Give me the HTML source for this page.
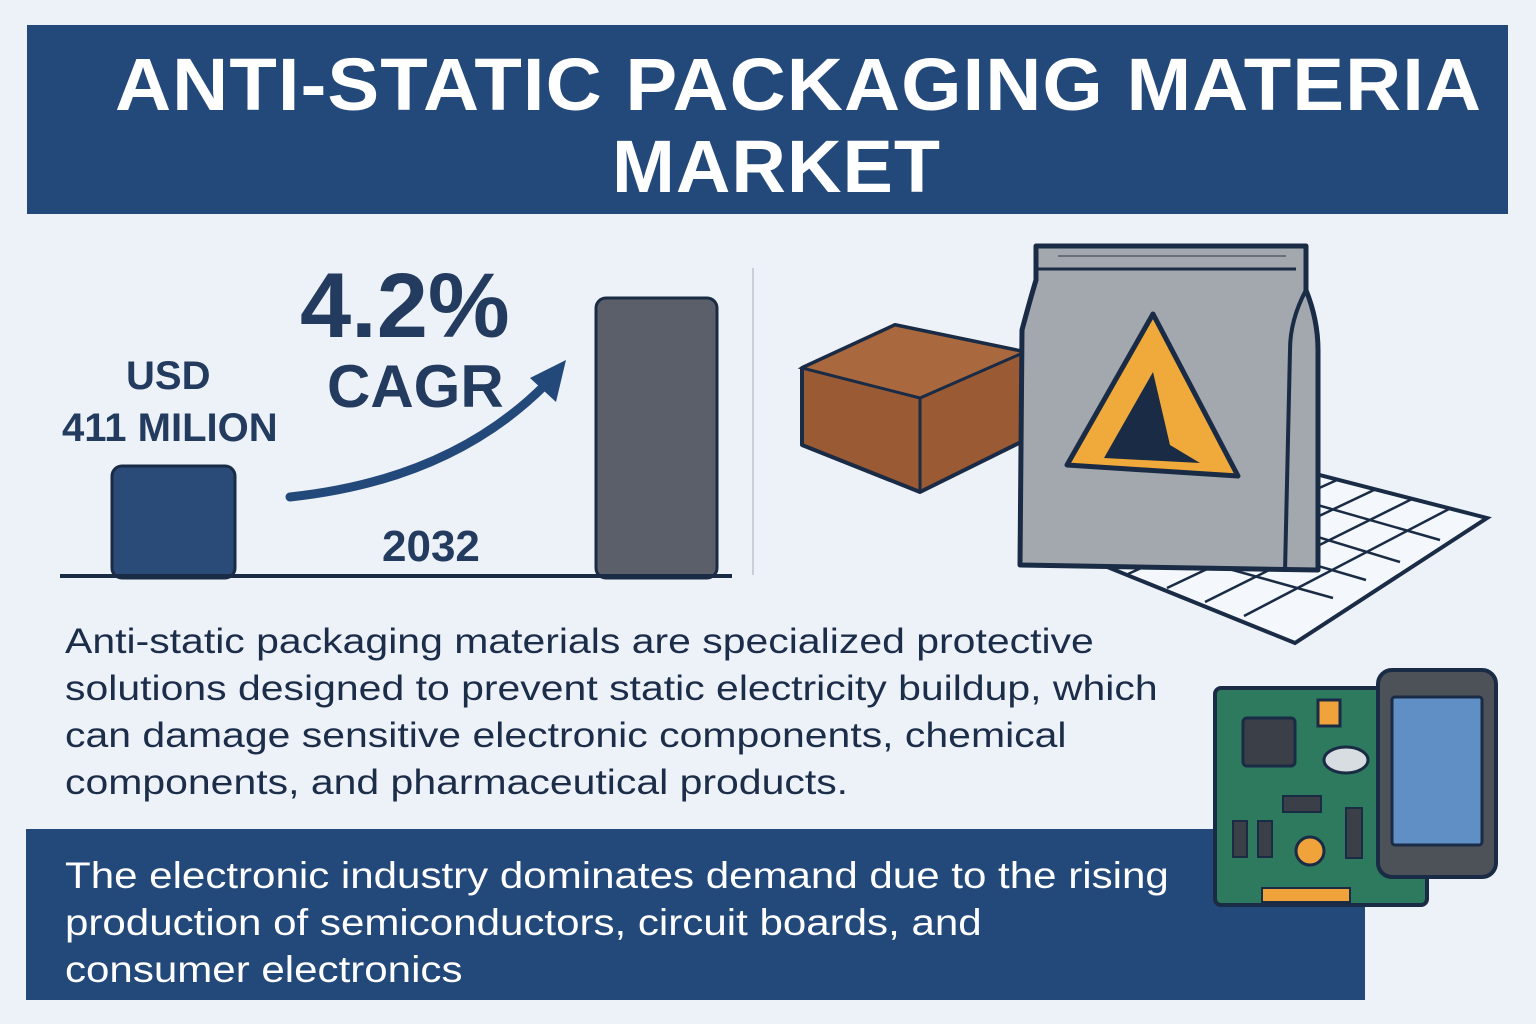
<!DOCTYPE html>
<html><head><meta charset="utf-8"><style>
html,body{margin:0;padding:0;}
body{width:1536px;height:1024px;background:#edf2f8;position:relative;overflow:hidden;font-family:"Liberation Sans",sans-serif;}
.abs{position:absolute;}
.banner{left:27px;top:25px;width:1481px;height:189px;background:#23497a;}
.t{color:#fff;font-weight:bold;font-size:74px;white-space:nowrap;letter-spacing:1px;transform-origin:0 0;}
.dark{color:#223b5e;font-weight:bold;white-space:nowrap;}
.body{left:65px;top:618px;font-size:35px;line-height:47px;color:#1c2d4a;white-space:nowrap;transform:scaleX(1.17);transform-origin:0 0;}
.bot{left:26px;top:829px;width:1339px;height:171px;background:#23497a;}
.bott{left:65px;top:852px;font-size:37px;line-height:47px;color:#fff;white-space:nowrap;transform:scaleX(1.137);transform-origin:0 0;}
</style></head><body>
<div class="abs banner"></div>
<div class="abs t" style="left:115px;top:42px;transform:scaleX(1.05);">ANTI-STATIC PACKAGING MATERIA</div>
<div class="abs t" style="left:612px;top:124px;transform:scaleX(1.02);">MARKET</div>

<svg class="abs" style="left:0;top:0" width="1536" height="1024">
 <line x1="753" y1="268" x2="753" y2="575" stroke="#c8cfd9" stroke-width="2"/>
 <rect x="112" y="466" width="123" height="112" rx="10" fill="#2a4a78" stroke="#1a2b45" stroke-width="3"/>
 <rect x="596" y="298" width="121" height="280" rx="10" fill="#5b5f69" stroke="#1a2b45" stroke-width="3"/>
 <line x1="60" y1="576" x2="732" y2="576" stroke="#1a2b45" stroke-width="4"/>
 <path d="M290 497 Q450 480 545 385" fill="none" stroke="#23497a" stroke-width="9" stroke-linecap="round"/>
 <polygon points="566,360 530,378 556,402" fill="#23497a"/>
 <polygon points="1090,560 1300,470 1487,518 1295,643" fill="#f4f7fb" stroke="#1a2b45" stroke-width="4"/>
 <g stroke="#1a2b45" stroke-width="2.5">
  <line x1="1128" y1="574" x2="1337" y2="480"/><line x1="1167" y1="588" x2="1374" y2="490"/><line x1="1205" y1="602" x2="1412" y2="499"/><line x1="1244" y1="616" x2="1449" y2="509"/>
  <line x1="1132" y1="542" x2="1333" y2="598"/><line x1="1174" y1="524" x2="1366" y2="580"/><line x1="1216" y1="506" x2="1400" y2="562"/><line x1="1258" y1="488" x2="1440" y2="540"/>
 </g>
 <polygon points="802,368 895,325 1025,352 1025,440 920,492 802,445" fill="#9a5a33" stroke="#1a2b45" stroke-width="4" stroke-linejoin="round"/>
 <polygon points="802,368 895,325 1025,352 920,398" fill="#a9683d" stroke="#1a2b45" stroke-width="3"/>
 <line x1="920" y1="398" x2="920" y2="492" stroke="#1a2b45" stroke-width="3"/>
 <path d="M1036 246 L1306 246 L1306 290 Q1318 320 1318 350 L1318 570 L1020 565 L1022 330 Q1030 300 1036 280 Z" fill="#a3a7ae" stroke="#1a2b45" stroke-width="5" stroke-linejoin="round"/>
 <path d="M1306 290 Q1290 320 1290 350 L1285 572" fill="none" stroke="#1a2b45" stroke-width="4"/>
 <line x1="1036" y1="269" x2="1296" y2="269" stroke="#1a2b45" stroke-width="3"/>
 <line x1="1058" y1="256" x2="1286" y2="256" stroke="#6a7079" stroke-width="2"/>
 <polygon points="1153,314 1067,465 1238,476" fill="#f0aa3c" stroke="#1a2b45" stroke-width="5" stroke-linejoin="round"/>
 <polygon points="1153,372 1104,458 1200,463 1170,445" fill="#1a2b45"/>
</svg>

<div class="abs dark" style="left:300px;top:254px;font-size:92px;">4.2%</div>
<div class="abs dark" style="left:327px;top:352px;font-size:60px;">CAGR</div>
<div class="abs dark" style="left:126px;top:354px;font-size:40px;">USD</div>
<div class="abs dark" style="left:62px;top:406px;font-size:40px;">411 MILION</div>
<div class="abs dark" style="left:382px;top:522px;font-size:44px;">2032</div>

<div class="abs body">Anti-static packaging materials are specialized protective<br>solutions designed to prevent static electricity buildup, which<br>can damage sensitive electronic components, chemical<br>components, and pharmaceutical products.</div>

<div class="abs bot"></div>
<div class="abs bott">The electronic industry dominates demand due to the rising<br>production of semiconductors, circuit boards, and<br>consumer electronics</div>

<svg class="abs" style="left:0;top:0" width="1536" height="1024">
 <rect x="1215" y="688" width="212" height="217" rx="6" fill="#2e7a5e" stroke="#1a2b45" stroke-width="4"/>
 <rect x="1243" y="718" width="52" height="48" rx="4" fill="#3a3f48" stroke="#1a2b45" stroke-width="3"/>
 <rect x="1318" y="700" width="22" height="26" fill="#f0a33a" stroke="#1a2b45" stroke-width="3"/>
 <ellipse cx="1346" cy="760" rx="22" ry="13" fill="#d8dde2" stroke="#1a2b45" stroke-width="3"/>
 <circle cx="1310" cy="851" r="14" fill="#f0a33a" stroke="#1a2b45" stroke-width="3"/>
 <rect x="1283" y="796" width="38" height="16" fill="#3a3f48" stroke="#1a2b45" stroke-width="2"/>
 <rect x="1233" y="821" width="14" height="36" fill="#3a3f48" stroke="#1a2b45" stroke-width="2"/>
 <rect x="1258" y="821" width="14" height="36" fill="#3a3f48" stroke="#1a2b45" stroke-width="2"/>
 <rect x="1346" y="808" width="16" height="50" fill="#3a3f48" stroke="#1a2b45" stroke-width="2"/>
 <rect x="1262" y="888" width="88" height="14" fill="#f0a33a" stroke="#1a2b45" stroke-width="2"/>
 <rect x="1378" y="670" width="118" height="207" rx="14" fill="#4d5158" stroke="#1a2b45" stroke-width="4"/>
 <rect x="1392" y="697" width="90" height="148" rx="3" fill="#5f8fc4" stroke="#1a2b45" stroke-width="3"/>
</svg>
</body></html>
